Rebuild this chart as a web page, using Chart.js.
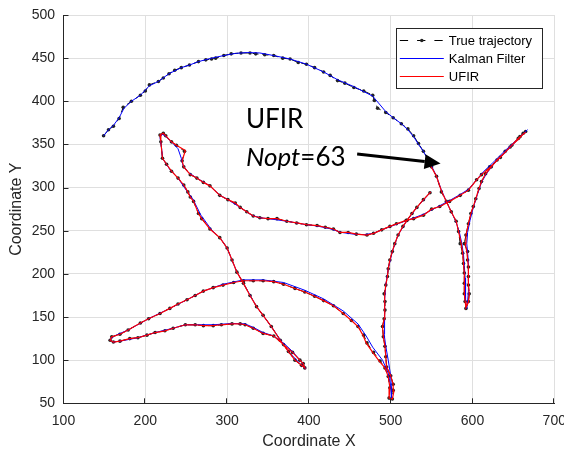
<!DOCTYPE html>
<html>
<head>
<meta charset="utf-8">
<title>Trajectory</title>
<script src="https://cdn.jsdelivr.net/npm/chart.js@4.4.1/dist/chart.umd.min.js"></script>
<style>
	body{
		margin: 0;
		background-color: #fff;
	}
	#chart{
		display: block;
	}
</style>
</head>
<body>
<canvas id="chart" width="564" height="451"></canvas>
<script>
// true trajectory (black dashed with dots)
var trueX = [149,155,161,168,173,183,194,200,205,216,222,229,236,244,254,265,274,281,286,296,305,317,328,335,346,357,368,377,387,397,407,418,426,435,444,455,467,478,480,484,494,503,513,521,528,534,540,545,
	550,556,562,568,574,580,583,585,588,589,590,590,590,591,592,595,596,595,595,595,594,594,590,592,595,598,601,604,608,611,616,623,630,640,648,656,662,665,
	658,646,634,621,611,605,595,585,572,560,550,540,528,519,507,499,489,479,471,458,448,438,430,420,410,397,385,373,361,350,340,332,324,316,310,301,291,279,271,263,255,247,245,248,238,232,225,222,218,
	219,221,226,232,240,247,252,255,259,265,269,279,291,300,306,312,320,328,336,344,354,365,375,383,391,395,
	393,389,380,369,357,344,332,322,316,306,293,283,271,261,249,234,224,212,202,191,181,169,161,157,
	159,169,179,194,204,218,230,240,251,261,271,283,295,308,320,332,344,357,369,383,395,407,418,430,442,452,460,467,471,479,487,493,497,499,498,502,503,503,500,
	495,494,493,491,490,492,493,493,492,494,496,497,499,502,505,509,515,520,526,532,540,548];
var trueY = [360,367,371,380,393,400,407,412,419,423,427,432,436,439,442,446,448,449,450,453,455,456,456,455,454,453,450,449,445,443,439,434,430,424,421,416,412,407,401,392,387,381,374,368,360,351,342,334,
	324,313,295,284,272,261,249,235,224,212,201,189,177,168,160,168,177,187,197,208,216,226,235,245,258,270,278,287,299,307,316,324,332,342,349,357,363,365,
	359,347,335,324,315,309,297,291,284,278,275,268,264,262,258,255,251,247,245,246,248,248,252,254,256,257,259,261,264,264,265,267,272,277,282,286,291,302,306,311,315,324,331,342,349,353,360,363,361,
	353,334,327,319,311,303,295,289,284,270,264,252,242,230,216,202,189,175,162,152,139,123,110,100,94,91,
	96,100,109,118,128,131,137,141,142,142,141,140,140,141,141,137,134,132,129,126,125,122,121,123,
	127,130,135,143,148,154,160,165,170,175,180,184,187,190,192,192,192,191,188,183,179,174,169,163,154,146,139,129,120,109,99,91,81,68,56,55,65,72,82,
	92,104,116,127,139,148,158,168,177,187,197,206,216,226,235,245,255,262,270,277,286,294];

// Kalman filter estimate (blue)
var kalmanX = [149,155,161,168,174,183,194,205,216,229,244,254,265,281,296,310,325,340,357,377,397,418,435,455,478,494,503,513,521,528,534,540,550,556,562,568,574,580,584,587,589,590,591,591,592,593,
	594,595,595,595,594,593,594,597,601,606,611,617,625,640,656,667,
	656,640,624,613,605,595,585,572,560,540,520,500,489,479,468,455,440,425,410,397,373,350,340,330,316,301,291,279,263,252,246,244,240,232,224,220,
	218,220,221,230,240,250,258,268,281,292,300,306,312,320,336,354,375,391,396,
	392,380,370,357,344,332,322,306,283,261,249,234,212,191,169,160,157,
	162,179,204,230,251,271,295,320,344,369,395,418,442,460,470,478,490,497,500,501,
	501,500,497,494,492,492,493,494,497,502,509,520,532,549];
var kalmanY = [360,367,372,381,392,400,407,418,423,432,439,442,446,450,453,455.5,456.5,456,453,449,443,434,425,417,406,388,381,374,367,359,350,342,325,313,297,284,272,260,248,235,222,210,195,180,168,160,
	168,180,195,210,225,235,248,262,277,292,306,316,326,341,356,367,
	357,343,328,318,309,298,292,285,279,269,262,255,251,247,245.5,246,248,252.5,255.5,257,261,264,265,268,277,286,291,302,311,318,326,334,345,353,360,362,
	358,345,334,321,311,297,287,268,251,241,230,216,202,189,162,139,110,94,90,
	97,110,119,128,132,138,142,142.5,141,141,141,137,132,126,122,121,124,
	128,135,148,160,170,180,188,193,193,190,181,171,157,142,128,115,100,85,70,55,
	65,82,100,116,130,150,170,187,206,226,245,262,277,295];

// UFIR estimate (red), starts after Nopt samples
var ufirX = [549,556,562,568,574,580,583,586,588,589,590,590,590,591,592,595,596,595,595,595,594,593,591,592,595,598,601,604,608,611,616,623,630,640,648,656,662,665,
	657,646,634,621,611,605,595,585,572,560,550,540,528,519,507,499,489,479,471,458,448,438,430,420,410,397,385,373,361,350,340,332,324,316,310,301,291,279,271,263,255,247,245,249,238,232,225,222,218,
	219,221,226,232,240,247,252,255,259,265,269,279,291,300,306,312,320,328,336,344,354,365,375,383,391,395,
	393,389,380,369,357,344,332,322,316,306,293,283,271,261,249,234,224,212,202,191,181,169,161,157,
	159,169,179,194,204,218,230,240,251,261,271,283,295,308,320,332,344,357,369,383,395,407,418,430,442,452,460,466,470,478,486,493,497,499,498,502,504,503,500,
	495,494,493,491,490,492,493,493,492,494,496,497,499,502,505,509,515,520,526,532,540,549];
var ufirY = [325,313,296,284,272,261,249,236,224,212,201,189,177,168,161,167,177,187,197,208,217,226,235,245,258,270,278,287,299,307,316,324,332,341,349,356,362,364,
	358,347,335,323,315,309,297,291,284,278,275,268,264,262,258,255,251,247,245,246,248,248,252,254,256,257,259,261,264,264,265,267,272,277,282,286,291,302,306,311,315,324,331,343,349,353,360,363,361,
	353,334,327,319,311,303,295,289,284,270,264,252,242,230,216,202,189,175,162,152,139,123,110,100,94,91,
	96,100,109,118,128,131,137,141,142,142,141,140,140,141,141,137,134,132,129,126,125,122,121,123,
	127,130,135,143,148,154,160,165,170,175,180,184,187,190,192,192,192,191,188,183,179,174,169,163,154,146,139,129,120,109,99,91,81,68,56,55,64,72,82,
	92,104,116,127,139,148,158,168,177,187,197,206,216,226,235,245,255,262,270,277,286,295];

var xTicks = [100,200,300,400,500,600,700];
var yTicks = [50,100,150,200,250,300,350,400,450,500];
var legendNames = ['True trajectory','Kalman Filter','UFIR'];

function pts(xs, ys){
	return xs.map(function(v, i){ return {x: v, y: ys[i]}; });
}

var tickFont = {family: "'Liberation Sans', Arial, Helvetica, sans-serif", size: 14};
var titleFont = {family: "'Liberation Sans', Arial, Helvetica, sans-serif", size: 16};

// inward ticks, annotation text, arrow and boxed legend
var overlay = {
	id: 'overlay',
	afterDraw: function(chart){
		var ctx = chart.ctx, a = chart.chartArea, sx = chart.scales.x, sy = chart.scales.y;
		ctx.save();
		ctx.strokeStyle = '#262626';
		ctx.lineWidth = 1;
		ctx.beginPath();
		xTicks.forEach(function(t){
			var p = Math.round(sx.getPixelForValue(t)) - 0.5;
			ctx.moveTo(p, a.bottom); ctx.lineTo(p, a.bottom - 5);
		});
		yTicks.forEach(function(t){
			var p = Math.round(sy.getPixelForValue(t)) + 0.5;
			ctx.moveTo(a.left, p); ctx.lineTo(a.left + 5, p);
		});
		ctx.stroke();

		// annotation
		ctx.fillStyle = '#000';
		ctx.textBaseline = 'alphabetic';
		ctx.textAlign = 'left';
		var tx = sx.getPixelForValue(323);
		ctx.font = '26px Lato, "Open Sans", sans-serif';
		ctx.fillText('UFIR', tx, sy.getPixelForValue(368.5));
		var by = sy.getPixelForValue(325);
		ctx.font = 'italic 26px Lato, "Open Sans", sans-serif';
		ctx.fillText('Nopt', tx, by);
		var w = ctx.measureText('Nopt').width;
		ctx.font = '26px Lato, "Open Sans", sans-serif';
		ctx.fillText('=63', tx + w, by);

		var x0 = sx.getPixelForValue(459), y0 = sy.getPixelForValue(339);
		var x1 = sx.getPixelForValue(561), y1 = sy.getPixelForValue(328);
		var ang = Math.atan2(y1 - y0, x1 - x0);
		var hl = 16, hw = 7.5;
		var bx = x1 - hl * Math.cos(ang), byy = y1 - hl * Math.sin(ang);
		ctx.strokeStyle = '#000';
		ctx.lineWidth = 3;
		ctx.beginPath();
		ctx.moveTo(x0, y0); ctx.lineTo(bx, byy);
		ctx.stroke();
		ctx.beginPath();
		ctx.moveTo(x1, y1);
		ctx.lineTo(bx + hw * Math.sin(ang), byy - hw * Math.cos(ang));
		ctx.lineTo(bx - hw * Math.sin(ang), byy + hw * Math.cos(ang));
		ctx.closePath();
		ctx.fill();

		// legend box
		var lx = a.right - 158.5, ly = a.top + 13;
		ctx.fillStyle = '#fff';
		ctx.fillRect(lx, ly, 146, 60);
		ctx.strokeStyle = '#262626';
		ctx.lineWidth = 1;
		ctx.strokeRect(Math.round(lx) + 0.5, Math.round(ly) + 0.5, 146, 60);
		var rows = [ly + 12.5, ly + 30.5, ly + 48.5];
		ctx.lineWidth = 1;
		ctx.strokeStyle = '#000';
		ctx.setLineDash([8.3, 9]);
		ctx.beginPath(); ctx.moveTo(lx + 4, rows[0]); ctx.lineTo(lx + 48, rows[0]); ctx.stroke();
		ctx.setLineDash([]);
		ctx.fillStyle = '#222';
		ctx.beginPath(); ctx.arc(lx + 26, rows[0], 1.8, 0, Math.PI * 2); ctx.fill();
		ctx.strokeStyle = '#0000ff';
		ctx.beginPath(); ctx.moveTo(lx + 4, rows[1]); ctx.lineTo(lx + 48, rows[1]); ctx.stroke();
		ctx.strokeStyle = '#ff0000';
		ctx.beginPath(); ctx.moveTo(lx + 4, rows[2]); ctx.lineTo(lx + 48, rows[2]); ctx.stroke();
		ctx.fillStyle = '#000';
		ctx.font = "13px 'Liberation Sans', Arial, sans-serif";
		ctx.textBaseline = 'middle';
		legendNames.forEach(function(n, i){ ctx.fillText(n, lx + 53, rows[i] + 0.5); });
		ctx.restore();
	}
};

var ctx = document.getElementById('chart').getContext('2d');
var chart = new Chart(ctx, {
	type: 'scatter',
	data: {
		datasets: [{
			label: legendNames[0],
			data: pts(trueX, trueY),
			showLine: true,
			borderColor: '#000',
			borderWidth: 1,
			borderDash: [6, 4],
			pointRadius: 1.8,
			pointBackgroundColor: '#222',
			pointBorderWidth: 0,
			order: 2
		}, {
			label: legendNames[1],
			data: pts(kalmanX, kalmanY),
			showLine: true,
			borderColor: '#0000ff',
			borderWidth: 1,
			pointRadius: 0,
			order: 1
		}, {
			label: legendNames[2],
			data: pts(ufirX, ufirY),
			showLine: true,
			borderColor: '#ff0000',
			borderWidth: 1.2,
			pointRadius: 0,
			order: 0
		}]
	},
	options: {
		responsive: false,
		animation: false,
		layout: {padding: {top: 15, right: 9.7, left: 0, bottom: 0}},
		plugins: {
			legend: {display: false},
			tooltip: {enabled: false}
		},
		scales: {
			x: {
				type: 'linear',
				min: 100, max: 700,
				afterBuildTicks: function(s){ s.ticks = xTicks.map(function(v){ return {value: v}; }); },
				ticks: {color: '#262626', font: tickFont, padding: 9, maxRotation: 0},
				grid: {color: '#dfdfdf', drawTicks: false},
				border: {color: '#262626'},
				title: {display: true, text: 'Coordinate X', color: '#262626', font: titleFont, padding: {top: 0, bottom: 0}},
				afterFit: function(s){ s.height = 47.7; s.paddingLeft = 0; s.paddingRight = 0; }
			},
			y: {
				type: 'linear',
				min: 50, max: 500,
				afterBuildTicks: function(s){ s.ticks = yTicks.map(function(v){ return {value: v}; }); },
				ticks: {color: '#262626', font: tickFont, padding: 8.5},
				grid: {color: '#dfdfdf', drawTicks: false},
				border: {color: '#262626'},
				title: {display: true, text: 'Coordinate Y', color: '#262626', font: titleFont, padding: {top: 7, bottom: 0}},
				afterFit: function(s){ s.width = 63.5; s.paddingTop = 0; s.paddingBottom = 0; }
			}
		}
	},
	plugins: [overlay]
});
</script>
</body>
</html>
